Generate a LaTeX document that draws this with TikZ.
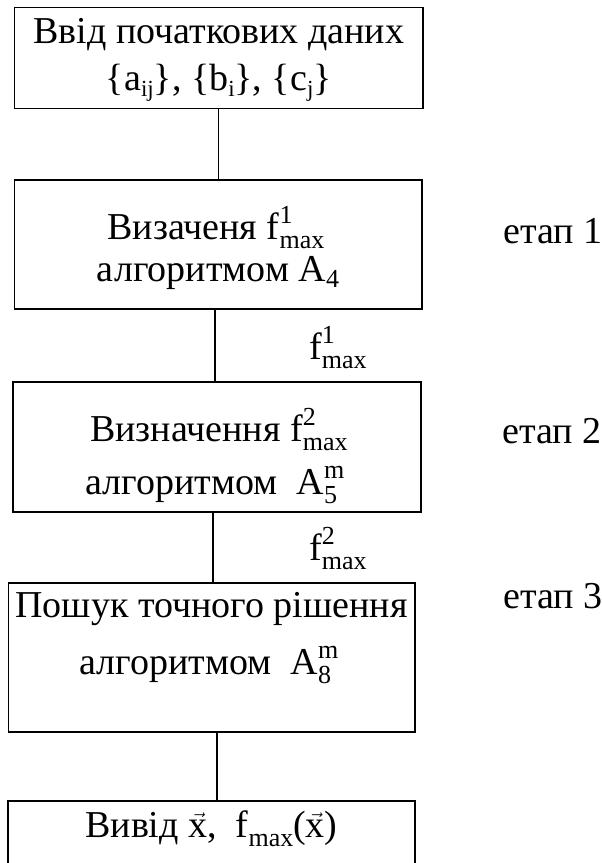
\documentclass[tikz,border=0pt]{standalone}
\usepackage{fontspec}
\setmainfont{Liberation Serif}
\newlength\sswd
\newcommand\SupSub[2]{{\fontsize{26}{26}\selectfont
  \setbox0\hbox{#1}\setbox2\hbox{#2}%
  \ifdim\wd0>\wd2 \global\sswd=\wd0 \else \global\sswd=\wd2 \fi
  \rlap{\raisebox{16pt}{\box0}}\makebox[\sswd][l]{\raisebox{-9pt}{\box2}}}}
\newcommand\Sb[2][6pt]{{\fontsize{26}{26}\selectfont\raisebox{-#1}{#2}}}
\newcommand\Sbs[1]{{\fontsize{23}{23}\selectfont\raisebox{-6pt}{#1}}}
\newcommand\vx{$\vec{\mbox{x}}$}
\begin{document}
\begin{tikzpicture}[x=1pt,y=1pt,
  box/.style={draw,line width=1.2pt,rectangle,inner sep=0pt},
  txt/.style={anchor=base,inner sep=0pt,font=\fontsize{38}{44}\selectfont},
  lbl/.style={anchor=base west,inner sep=0pt,font=\fontsize{38}{44}\selectfont},
  conn/.style={line width=1.2pt}]
\useasboundingbox (0,0) rectangle (602,-863);
% boxes
\node[box,minimum width=408.3pt,minimum height=101pt] (b1) at (218.85,-57.8) {};
\node[box,minimum width=407.3pt,minimum height=129pt] (b2) at (218.35,-244.5) {};
\node[box,minimum width=408pt,minimum height=130pt] (b3) at (217,-447) {};
\node[box,minimum width=406.7pt,minimum height=149pt] (b4) at (211.65,-657.5) {};
\node[box,minimum width=407pt,minimum height=89pt] (b5) at (211.5,-845.5) {};
% texts
\node[txt] (t1a) at (218.85,-43) {Ввід початкових даних};
\node[txt] (t1b) at (218.85,-90) {\{a\Sbs{ij}\}, \{b\Sbs{i}\}, \{c\Sbs{j}\}};
\node[txt] (t2a) at (216,-239) {Визаченя f\SupSub{1}{max}};
\node[txt] (t2b) at (218,-281) {алгоритмом A\Sb{4}};
\node[txt] (t3a) at (219,-441) {Визначення f\SupSub{2}{max}};
\node[txt] (t3b) at (215,-494) {алгоритмом\ \ A\SupSub{m}{5}};
\node[txt] (t4a) at (211.6,-617) {Пошук точного рішення};
\node[txt] (t4b) at (209,-674) {алгоритмом\ \ A\SupSub{m}{8}};
\node[txt] (t5) at (211.5,-837) {Вивід\ \vx, \ f\Sb[9pt]{max}(\vx)};
% side labels
\node[lbl] (l1) at (309,-359) {f\SupSub{1}{max}};
\node[lbl] (l2) at (309,-560) {f\SupSub{2}{max}};
\node[lbl] (e1) at (503,-243) {етап 1};
\node[lbl] (e2) at (502,-443) {етап 2};
\node[lbl] (e3) at (503,-608) {етап 3};
% connectors
\draw[conn] (b1.south) -- (b1.south |- b2.north);
\draw[conn] ([xshift=-3.35pt]b2.south) -- ([xshift=-3.35pt]b2.south |- b3.north);
\draw[conn] ([xshift=-4pt]b3.south) -- ([xshift=-4pt]b3.south |- b4.north);
\draw[conn] ([xshift=5.35pt]b4.south) -- ([xshift=5.35pt]b4.south |- b5.north);
\end{tikzpicture}
\end{document}
